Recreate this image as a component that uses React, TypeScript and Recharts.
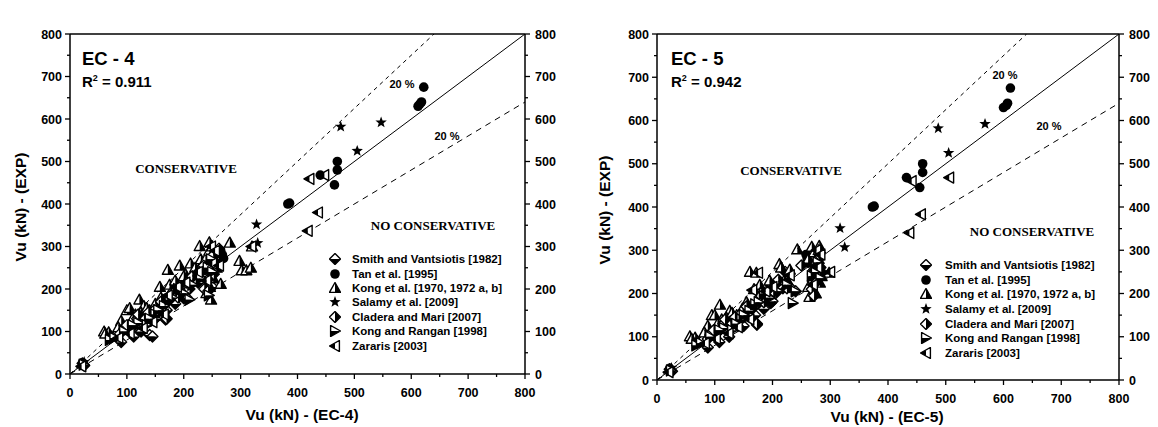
import React from "react";
import { ScatterChart, Scatter, XAxis, YAxis, ReferenceLine, Legend } from "recharts";

// axis ticks every 50, labels every 100
const TICKS = [0, 50, 100, 150, 200, 250, 300, 350, 400, 450, 500, 550, 600, 650, 700, 750, 800];

const SERIES_NAMES = [
  "Smith and Vantsiotis [1982]",
  "Tan et al. [1995]",
  "Kong et al. [1970, 1972 a, b]",
  "Salamy et al. [2009]",
  "Cladera and Mari [2007]",
  "Kong and Rangan [1998]",
  "Zararis [2003]",
];
const SERIES_KINDS = ["diamondTop", "circle", "triUp", "star", "diamondLeft", "triRight", "triLeft"];

// EC-4 : [predicted, experimental]
const SMITH_EC4 = [[22, 25], [25, 20], [90, 75], [112, 88], [140, 92], [145, 88], [125, 100], [168, 128], [205, 180], [200, 178], [170, 150], [150, 130], [185, 165], [230, 250], [245, 215], [250, 205], [110, 110], [95, 105], [80, 90], [135, 140], [160, 150], [215, 225], [240, 255], [255, 270], [130, 125], [115, 120], [155, 160], [195, 195], [225, 215], [252, 250]];
const TAN_EC4 = [[22, 27], [265, 290], [268, 280], [270, 272], [383, 400], [386, 402], [440, 468], [470, 500], [470, 480], [465, 445], [612, 630], [615, 635], [618, 640], [622, 675]];
const KONG_EC4 = [[60, 100], [68, 98], [73, 88], [122, 175], [100, 150], [105, 155], [90, 125], [115, 140], [130, 160], [158, 205], [172, 245], [193, 255], [203, 235], [228, 301], [245, 310], [281, 309], [298, 266], [302, 244], [310, 244], [318, 250], [320, 300], [265, 212], [240, 190], [245, 230], [250, 265], [230, 270], [212, 260], [180, 200], [150, 165], [140, 150], [85, 110], [195, 215], [255, 285], [248, 175], [62, 95], [110, 130], [125, 145], [135, 155], [160, 180], [175, 210], [185, 220], [200, 230], [220, 250], [238, 270], [245, 290], [250, 300], [258, 250], [242, 240], [246, 205], [252, 225]];
const SALAMY_EC4 = [[25, 28], [328, 352], [330, 308], [505, 525], [476, 582], [547, 592]];
const CLADERA_EC4 = [[100, 115], [118, 130], [130, 135], [148, 150], [155, 145], [168, 165], [178, 178], [190, 180], [210, 200], [222, 235], [240, 245], [252, 280], [258, 260], [245, 225], [236, 200], [142, 125], [170, 130], [88, 95], [205, 215], [262, 295], [120, 140], [138, 145], [160, 170], [185, 195], [215, 230], [235, 255], [248, 260], [253, 235], [243, 195]];
const RANGAN_EC4 = [[70, 80], [78, 85], [95, 100], [120, 120], [135, 115], [150, 140], [165, 160], [175, 175], [180, 180], [200, 190], [215, 210], [235, 240], [242, 250], [250, 240], [244, 185], [210, 175], [110, 115], [140, 130], [155, 150], [190, 200], [230, 225], [248, 270], [24, 22]];
const ZARARIS_EC4 = [[20, 18], [85, 85], [105, 95], [128, 108], [145, 122], [165, 140], [172, 185], [188, 205], [203, 215], [225, 240], [248, 300], [255, 290], [250, 260], [319, 300], [418, 337], [436, 380], [421, 459], [447, 468], [240, 220], [262, 255]];

// EC-5 : [predicted, experimental]
const SMITH_EC5 = [[22, 25], [26, 20], [88, 75], [108, 88], [125, 100], [150, 125], [173, 128], [197, 178], [200, 182], [170, 150], [185, 165], [222, 250], [230, 215], [240, 205], [105, 110], [92, 105], [78, 90], [132, 140], [158, 150], [210, 225], [272, 255], [280, 270], [128, 125], [112, 120], [150, 160], [190, 195], [218, 212], [276, 250]];
const TAN_EC5 = [[22, 27], [195, 220], [258, 290], [260, 280], [262, 270], [373, 400], [376, 402], [432, 468], [460, 500], [460, 480], [455, 445], [600, 630], [605, 635], [607, 640], [612, 675]];
const KONG_EC5 = [[57, 101], [66, 98], [70, 90], [109, 174], [95, 150], [100, 150], [88, 125], [112, 140], [126, 160], [161, 250], [172, 248], [212, 268], [225, 232], [243, 302], [268, 308], [281, 310], [298, 248], [262, 215], [264, 192], [275, 265], [278, 285], [215, 260], [180, 200], [148, 165], [138, 150], [82, 110], [195, 215], [285, 240], [272, 205], [60, 95], [105, 130], [120, 145], [130, 155], [155, 180], [168, 210], [178, 220], [195, 230], [230, 255], [262, 280], [272, 295], [280, 300], [285, 255], [270, 240], [275, 200], [282, 225]];
const SALAMY_EC5 = [[25, 28], [317, 351], [325, 307], [505, 525], [487, 582], [568, 592]];
const CLADERA_EC5 = [[98, 115], [115, 130], [127, 135], [143, 150], [150, 145], [165, 165], [175, 178], [185, 180], [205, 200], [220, 228], [270, 245], [280, 280], [283, 260], [275, 225], [268, 210], [140, 125], [173, 130], [88, 95], [225, 212], [282, 295], [118, 140], [135, 145], [155, 170], [180, 195], [210, 232], [250, 265], [276, 270], [282, 245], [272, 195]];
const RANGAN_EC5 = [[68, 80], [76, 85], [92, 100], [116, 120], [130, 115], [146, 140], [160, 160], [170, 175], [176, 180], [195, 190], [210, 205], [268, 240], [275, 250], [283, 235], [235, 178], [240, 205], [108, 115], [137, 130], [150, 150], [185, 200], [225, 220], [278, 272], [24, 22]];
const ZARARIS_EC5 = [[20, 18], [83, 85], [102, 95], [124, 108], [140, 122], [160, 140], [165, 208], [175, 248], [188, 205], [200, 215], [230, 242], [276, 300], [283, 290], [278, 260], [300, 250], [437, 340], [457, 383], [441, 460], [506, 468], [270, 220]];

// y = k * x reference lines (exact, +20 %, -20 %)
const RATIO_LINES = [
  { k: 1, dash: undefined },
  { k: 1.25, dash: "4 4" },
  { k: 0.8, dash: "6 5" },
];

const toPts = (arr: number[][]) => arr.map(([x, y]) => ({ x, y }));

const SANS = "'Liberation Sans', Arial, sans-serif";
const SERIF = "'Liberation Serif', 'Times New Roman', serif";

const Marker = ({ kind, cx, cy }: { kind: string; cx: number; cy: number }) => {
  const s = 5.5;
  const edge = { stroke: "#000", strokeWidth: 1.4, fill: "none", strokeLinejoin: "round" as const };
  const p = (pts: number[][]) => pts.map((q) => q.join(",")).join(" ");
  switch (kind) {
    case "circle":
      return <circle cx={cx} cy={cy} r={4.8} fill="#000" />;
    case "star": {
      const pts: number[][] = [];
      for (let i = 0; i < 10; i++) {
        const r = i % 2 === 0 ? 6 : 2.5;
        const a = -Math.PI / 2 + (i * Math.PI) / 5;
        pts.push([cx + r * Math.cos(a), cy + r * Math.sin(a)]);
      }
      return <polygon points={p(pts)} fill="#000" />;
    }
    case "diamondTop":
      return (
        <g>
          <polygon points={p([[cx - s, cy], [cx, cy - s], [cx + s, cy]])} fill="#fff" />
          <polygon points={p([[cx - s, cy], [cx + s, cy], [cx, cy + s]])} fill="#000" />
          <polygon points={p([[cx, cy - s], [cx + s, cy], [cx, cy + s], [cx - s, cy]])} {...edge} />
        </g>
      );
    case "diamondLeft":
      return (
        <g>
          <polygon points={p([[cx, cy - s], [cx - s, cy], [cx, cy + s]])} fill="#fff" />
          <polygon points={p([[cx, cy - s], [cx + s, cy], [cx, cy + s]])} fill="#000" />
          <polygon points={p([[cx, cy - s], [cx + s, cy], [cx, cy + s], [cx - s, cy]])} {...edge} />
        </g>
      );
    case "triUp":
      return (
        <g>
          <polygon points={p([[cx, cy - s], [cx - s, cy + 0.8 * s], [cx, cy + 0.8 * s]])} fill="#fff" />
          <polygon points={p([[cx, cy - s], [cx + s, cy + 0.8 * s], [cx, cy + 0.8 * s]])} fill="#000" />
          <polygon points={p([[cx, cy - s], [cx + s, cy + 0.8 * s], [cx - s, cy + 0.8 * s]])} {...edge} />
        </g>
      );
    case "triRight":
      return (
        <g>
          <polygon points={p([[cx + s, cy], [cx - 0.8 * s, cy - s], [cx - 0.8 * s, cy]])} fill="#fff" />
          <polygon points={p([[cx + s, cy], [cx - 0.8 * s, cy + s], [cx - 0.8 * s, cy]])} fill="#000" />
          <polygon points={p([[cx + s, cy], [cx - 0.8 * s, cy - s], [cx - 0.8 * s, cy + s]])} {...edge} />
        </g>
      );
    default: // triLeft
      return (
        <g>
          <polygon points={p([[cx + 0.8 * s, cy - s], [cx + 0.8 * s, cy + s], [cx, cy + 0.556 * s], [cx, cy - 0.556 * s]])} fill="#fff" />
          <polygon points={p([[cx - s, cy], [cx, cy - 0.556 * s], [cx, cy + 0.556 * s]])} fill="#000" />
          <polygon points={p([[cx - s, cy], [cx + 0.8 * s, cy - s], [cx + 0.8 * s, cy + s]])} {...edge} />
        </g>
      );
  }
};

const renderTick = (side: string) => (props: any) => {
  const { x, y, payload } = props;
  const v = payload.value;
  const major = v % 100 === 0;
  const len = major ? 5 : 3;
  const txt = { fontFamily: SANS, fontWeight: 700, fontSize: 12.5, fill: "#000" };
  if (side === "bottom")
    return (
      <g>
        <line x1={x} y1={y} x2={x} y2={y + len} stroke="#000" strokeWidth={1.3} />
        {major && <text x={x} y={y + 23} textAnchor="middle" {...txt}>{v}</text>}
      </g>
    );
  if (side === "top")
    return (
      <g>
        <line x1={x} y1={y} x2={x} y2={y - len} stroke="#000" strokeWidth={1.3} />
        {major && <text x={x} y={y - 13} textAnchor="middle" {...txt}>{v}</text>}
      </g>
    );
  if (side === "left")
    return (
      <g>
        <line x1={x} y1={y} x2={x - len} y2={y} stroke="#000" strokeWidth={1.3} />
        {major && <text x={x - 8} y={y + 4.5} textAnchor="end" {...txt}>{v}</text>}
      </g>
    );
  return (
    <g>
      <line x1={x} y1={y} x2={x + len} y2={y} stroke="#000" strokeWidth={1.3} />
      {major && <text x={x + 10} y={y + 4.5} textAnchor="start" {...txt}>{v}</text>}
    </g>
  );
};

const renderLegend = (gap: number, row: number) => () => (
  <div style={{ fontFamily: SANS, fontWeight: 700, fontSize: 11.5, color: "#000" }}>
    {SERIES_NAMES.map((name, i) => (
      <div key={name} style={{ display: "flex", alignItems: "center", height: row, whiteSpace: "nowrap" }}>
        <svg width={12} height={12} style={{ marginRight: gap, flex: "none" }}>
          <Marker kind={SERIES_KINDS[i]} cx={6} cy={6} />
        </svg>
        <span>{name}</span>
      </div>
    ))}
  </div>
);

type PanelCfg = {
  width: number;
  margin: { top: number; right: number; bottom: number; left: number };
  code: string;
  r2: string;
  series: number[][][];
  title: { x: number; y1: number; y2: number };
  yTitle: { x: number; y: number };
  xTitle: { x: number; y: number };
  cons: { x: number; y: number };
  noCons: { x: number; y: number };
  upper: { x: number; y: number };
  lower: { x: number; y: number };
  legend: { left: number; top: number; gap: number; row: number };
};

const AXIS = { stroke: "#000", strokeWidth: 1.5 };

const Panel = ({ cfg }: { cfg: PanelCfg }) => {
  const axisCommon = {
    type: "number" as const,
    domain: [0, 800],
    ticks: TICKS,
    interval: 0 as const,
    allowDataOverflow: true,
    tickSize: 0,
    tickMargin: 0,
    tickLine: false,
    axisLine: AXIS,
  };
  const bold = { fontFamily: SANS, fontWeight: 700, fill: "#000" };
  // axes are 1px thick boxes, so the margins are one pixel short of the plot edges
  const m = cfg.margin;
  const margin = { top: m.top - 1, right: m.right - 1, bottom: m.bottom - 1, left: m.left - 1 };
  return (
    <ScatterChart width={cfg.width} height={427} margin={margin}>
      <XAxis xAxisId="b" dataKey="x" orientation="bottom" height={1} tick={renderTick("bottom")} {...axisCommon} />
      <XAxis xAxisId="t" orientation="top" height={1} tick={renderTick("top")} {...axisCommon} />
      <YAxis yAxisId="l" dataKey="y" orientation="left" width={1} tick={renderTick("left")} {...axisCommon} />
      <YAxis yAxisId="r" orientation="right" width={1} tick={renderTick("right")} {...axisCommon} />
      {RATIO_LINES.map((l) => (
        <ReferenceLine
          key={l.k}
          xAxisId="b"
          yAxisId="l"
          segment={[{ x: 0, y: 0 }, { x: Math.min(800, 800 / l.k), y: Math.min(800, 800 * l.k) }]}
          stroke="#000"
          strokeWidth={1}
          strokeDasharray={l.dash}
          ifOverflow="hidden"
        />
      ))}
      {cfg.series.map((d, i) => (
        <Scatter
          key={SERIES_NAMES[i]}
          name={SERIES_NAMES[i]}
          data={toPts(d)}
          xAxisId="b"
          yAxisId="l"
          isAnimationActive={false}
          shape={(p: any) => <Marker kind={SERIES_KINDS[i]} cx={p.cx} cy={p.cy} />}
        />
      ))}
      <Legend
        layout="vertical"
        align="center"
        verticalAlign="middle"
        wrapperStyle={{ left: cfg.legend.left, top: cfg.legend.top, width: 230 }}
        content={renderLegend(cfg.legend.gap, cfg.legend.row)}
      />
      <text x={cfg.title.x} y={cfg.title.y1} fontSize={18.5} {...bold}>{cfg.code}</text>
      <text x={cfg.title.x} y={cfg.title.y2} fontSize={15} {...bold}>
        R<tspan dy={-6} fontSize={9}>2</tspan>
        <tspan dy={6}> = {cfg.r2}</tspan>
      </text>
      <text x={cfg.upper.x} y={cfg.upper.y} fontSize={11} textAnchor="middle" {...bold}>20 %</text>
      <text x={cfg.lower.x} y={cfg.lower.y} fontSize={11} textAnchor="middle" {...bold}>20 %</text>
      <text x={cfg.cons.x} y={cfg.cons.y} fontSize={13} textAnchor="middle" fontFamily={SERIF} fontWeight={700} fill="#000">CONSERVATIVE</text>
      <text x={cfg.noCons.x} y={cfg.noCons.y} fontSize={13} textAnchor="middle" fontFamily={SERIF} fontWeight={700} fill="#000">NO CONSERVATIVE</text>
      <text x={cfg.xTitle.x} y={cfg.xTitle.y} fontSize={15.5} textAnchor="middle" {...bold}>Vu (kN) - ({cfg.code.replace(/ /g, "")})</text>
      <text transform={`translate(${cfg.yTitle.x},${cfg.yTitle.y}) rotate(-90)`} fontSize={15.5} textAnchor="middle" {...bold}>Vu (kN) - (EXP)</text>
    </ScatterChart>
  );
};

const LEFT: PanelCfg = {
  width: 580,
  margin: { top: 34, right: 55, bottom: 53, left: 70 },
  code: "EC - 4",
  r2: "0.911",
  series: [SMITH_EC4, TAN_EC4, KONG_EC4, SALAMY_EC4, CLADERA_EC4, RANGAN_EC4, ZARARIS_EC4],
  title: { x: 82, y1: 65, y2: 87 },
  yTitle: { x: 26, y: 207 },
  xTitle: { x: 302, y: 420 },
  cons: { x: 186, y: 173 },
  noCons: { x: 433, y: 230 },
  upper: { x: 402, y: 88 },
  lower: { x: 447, y: 140 },
  legend: { left: 329, top: 252, gap: 11, row: 14.4 },
};

const RIGHT: PanelCfg = {
  width: 578,
  margin: { top: 34, right: 39, bottom: 47, left: 77 },
  code: "EC - 5",
  r2: "0.942",
  series: [SMITH_EC5, TAN_EC5, KONG_EC5, SALAMY_EC5, CLADERA_EC5, RANGAN_EC5, ZARARIS_EC5],
  title: { x: 91, y1: 65, y2: 87 },
  yTitle: { x: 30, y: 210 },
  xTitle: { x: 307, y: 422 },
  cons: { x: 211, y: 175 },
  noCons: { x: 452, y: 236 },
  upper: { x: 425, y: 79 },
  lower: { x: 469, y: 130 },
  legend: { left: 340, top: 258, gap: 13, row: 14.6 },
};

export default function App() {
  return (
    <div style={{ position: "absolute", left: 0, top: 0, width: 1158, height: 427, background: "#fff", display: "flex" }}>
      <Panel cfg={LEFT} />
      <Panel cfg={RIGHT} />
    </div>
  );
}
